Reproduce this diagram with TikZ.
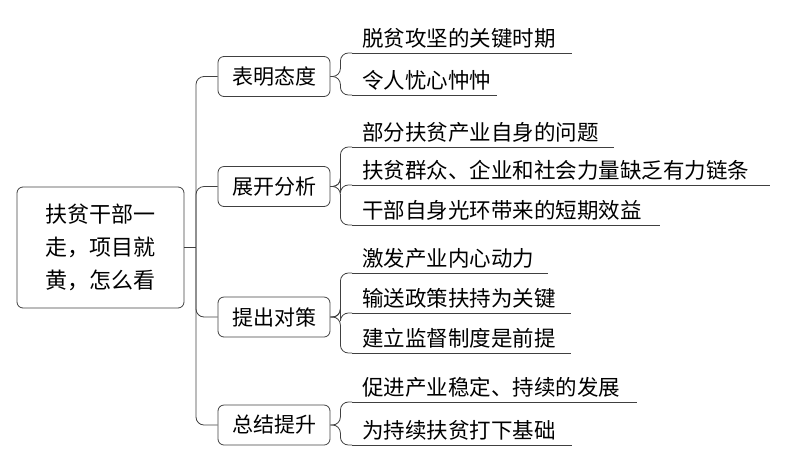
\documentclass[tikz,border=0pt]{standalone}
\usepackage{fontspec}
\newfontfamily\cjk{Noto Sans CJK SC}
\begin{document}
\begin{tikzpicture}[x=1pt,y=-1pt,
  ln/.style={draw=black!75,line width=0.8pt},
  box/.style={ln,rounded corners=6pt,font=\cjk\fontsize{21}{26}\selectfont,inner sep=0pt,minimum height=40pt},
  leaf/.style={anchor=south west,font=\cjk\fontsize{21.5}{24}\selectfont,inner sep=0pt,outer sep=0pt}]
\useasboundingbox (0,0) rectangle (786,464);
\node[box,minimum width=167pt,minimum height=121pt,align=center,font=\cjk\fontsize{22}{33}\selectfont] (root) at (100.5,247.5) {扶贫干部一\\走，项目就\\黄，怎么看};
\node[box,minimum width=112pt] (a) at (274,76.5) {表明态度};
\node[box,minimum width=112pt] (b) at (274,186.5) {展开分析};
\node[box,minimum width=112pt] (c) at (274,317) {提出对策};
\node[box,minimum width=112pt] (d) at (274,425) {总结提升};
\coordinate (j) at (196,247.5);
\draw[ln] (root.east) -- (j);
\foreach \n in {a,b,c,d}{\draw[ln,rounded corners=8pt] (j) |- (\n.west);}
\foreach \nm/\uy/\ex/\tx/\p in {
 a1/53/572/脱贫攻坚的关键时期/a, a2/95/497/令人忧心忡忡/a,
 b1/147/614/部分扶贫产业自身的问题/b, b2/185/770/扶贫群众、企业和社会力量缺乏有力链条/b, b3/225/660/干部自身光环带来的短期效益/b,
 c1/273/548/激发产业内心动力/c, c2/313/571/输送政策扶持为关键/c, c3/353/571/建立监督制度是前提/c,
 d1/402/637/促进产业稳定、持续的发展/d, d2/445/572/为持续扶贫打下基础/d}{
  \node[leaf] (\nm) at (362,\uy-5) {\tx};
  \coordinate (\nm s) at (352,\uy);
  \coordinate (\nm e) at (\ex,\uy);
  \draw[ln] (\nm s) -- (\nm e);
  \draw[ln,rounded corners=8pt] (\p.east) -- ++(10,0) |- (\nm s);
}
\end{tikzpicture}
\end{document}
